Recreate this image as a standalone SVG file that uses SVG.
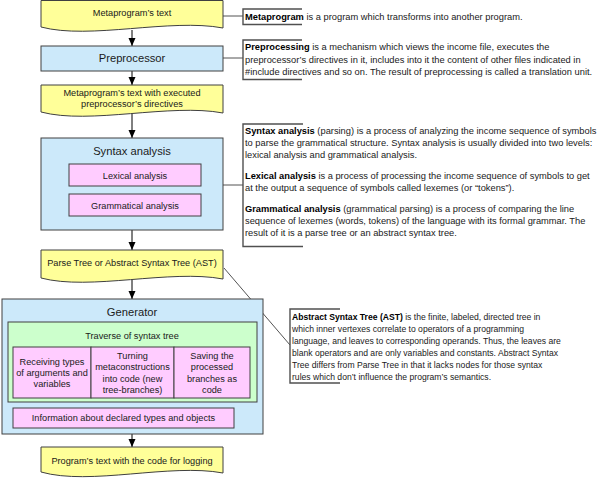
<svg xmlns="http://www.w3.org/2000/svg" width="600" height="481" viewBox="0 0 600 481">
<style>
text{font-family:"Liberation Sans",Arial,sans-serif;fill:#1a1a1a}
.t{font-size:9.2px;text-anchor:middle}
.h{font-size:11.2px;text-anchor:middle}
.n{font-size:9.3px}
.m{font-size:8.6px}
.b{font-weight:bold;fill:#000}
.doc{fill:#ffff99;stroke:#404040;stroke-width:1}
.blue{fill:#cce9fa;stroke:#404040;stroke-width:1}
.pink{fill:#ffccff;stroke:#404040;stroke-width:1}
.green{fill:#ccffcc;stroke:#404040;stroke-width:1}
.br{fill:none;stroke:#505050;stroke-width:1.4}
.c{fill:none;stroke:#404040;stroke-width:0.9}
.a{fill:none;stroke:#000;stroke-width:1;marker-end:url(#ah)}
.d{fill:none;stroke:#000;stroke-width:1;marker-end:url(#sh);marker-start:url(#sh)}
</style>
<defs>
<marker id="ah" viewBox="0 0 8 8" refX="8" refY="4" markerWidth="8" markerHeight="8" markerUnits="userSpaceOnUse" orient="auto"><path d="M0,0.5 L8,4 L0,7.5 Z" fill="#000"/></marker>
<marker id="sh" viewBox="0 0 6 6" refX="6" refY="3" markerWidth="5" markerHeight="5" markerUnits="userSpaceOnUse" orient="auto-start-reverse"><path d="M0,0 L6,3 L0,6 Z" fill="#000"/></marker>
</defs>

<g id="connectors">
<line class="a" x1="132" y1="30" x2="132" y2="46"/>
<line class="a" x1="132" y1="71" x2="132" y2="85"/>
<line class="a" x1="132" y1="114" x2="132" y2="138"/>
<line class="a" x1="132" y1="230" x2="132" y2="250"/>
<line class="a" x1="132" y1="280" x2="132" y2="299"/>
<line class="a" x1="132" y1="434" x2="132" y2="447"/>
<line class="d" x1="25" y1="399" x2="25" y2="407.5"/>
<line class="d" x1="104" y1="399" x2="104" y2="407.5"/>
<line class="c" x1="223" y1="16" x2="243" y2="16"/>
<line class="c" x1="223" y1="58" x2="243" y2="58"/>
<line class="c" x1="223" y1="185" x2="243" y2="185"/>
<line class="c" x1="224" y1="268" x2="290" y2="345"/>
</g>

<g id="metaprogram-text">
<path class="doc" d="M41,0.5 H223 V28 C170,18 90,40 41,27 Z"/>
<text class="t" x="132" y="15.5">Metaprogram’s text</text>
</g>

<g id="preprocessor">
<rect class="blue" x="41" y="46" width="182" height="25"/>
<text class="h" x="132" y="62">Preprocessor</text>
</g>

<g id="preprocessed-text">
<path class="doc" d="M41,85 H223 V113 C170,103 90,125 41,112 Z"/>
<text class="t" x="132" y="95.5">Metaprogram’s text with executed</text>
<text class="t" x="132" y="106.5">preprocessor’s directives</text>
</g>

<g id="syntax-analysis">
<rect class="blue" x="41" y="138" width="182" height="92"/>
<text class="h" x="132" y="154.5">Syntax analysis</text>
<rect class="pink" x="69" y="164" width="132" height="22"/>
<text class="t" x="135" y="178.5">Lexical analysis</text>
<rect class="pink" x="69" y="194" width="132" height="22"/>
<text class="t" x="135" y="208.5">Grammatical analysis</text>
</g>

<g id="ast">
<path class="doc" d="M41,250 H223 V279 C170,269 90,291 41,278 Z"/>
<text class="t" x="132" y="265.5">Parse Tree or Abstract Syntax Tree (AST)</text>
</g>

<g id="generator">
<rect class="blue" x="2" y="299" width="261" height="135"/>
<text class="h" x="132" y="315.5">Generator</text>
<rect class="green" x="8" y="322" width="249" height="80"/>
<text class="t" x="132" y="338.5">Traverse of syntax tree</text>
<rect class="pink" x="13" y="347" width="78" height="51"/>
<rect class="pink" x="91" y="347" width="83" height="51"/>
<rect class="pink" x="174" y="347" width="76" height="51"/>
<text class="t" x="52" y="364.5">Receiving types</text>
<text class="t" x="52" y="375.8">of arguments and</text>
<text class="t" x="52" y="387.1">variables</text>
<text class="t" x="132.5" y="359">Turning</text>
<text class="t" x="132.5" y="370.3">metaconstructions</text>
<text class="t" x="132.5" y="381.6">into code (new</text>
<text class="t" x="132.5" y="392.9">tree-branches)</text>
<text class="t" x="212" y="359">Saving the</text>
<text class="t" x="212" y="370.3">processed</text>
<text class="t" x="212" y="381.6">branches as</text>
<text class="t" x="212" y="392.9">code</text>
<rect class="pink" x="13" y="408" width="221" height="20"/>
<text class="t" x="123.5" y="421">Information about declared types and objects</text>
</g>

<g id="logging-text">
<path class="doc" d="M41,447 H223 V473 C170,463 90,486 41,472 Z"/>
<text class="t" x="132" y="464">Program’s text with the code for logging</text>
</g>

<g id="note-metaprogram">
<path class="br" d="M302,9 H243 V24.5 H302"/>
<text class="n" x="245" y="19.5"><tspan class="b">Metaprogram</tspan> is a program which transforms into another program.</text>
</g>

<g id="note-preprocessing">
<path class="br" d="M302,40 H243 V79.5 H302"/>
<text class="n" x="245" y="50"><tspan class="b">Preprocessing</tspan> is a mechanism which views the income file, executes the</text>
<text class="n" x="245" y="62.5">preprocessor’s directives in it, includes into it the content of other files indicated in</text>
<text class="n" x="245" y="75">#include directives and so on. The result of preprocessing is called a translation unit.</text>
</g>

<g id="note-syntax">
<path class="br" d="M303,124 H243 V246.5 H303"/>
<text class="n" x="245" y="133.5"><tspan class="b">Syntax analysis</tspan> (parsing) is a process of analyzing the income sequence of symbols</text>
<text class="n" x="245" y="145.8">to parse the grammatical structure. Syntax analysis is usually divided into two levels:</text>
<text class="n" x="245" y="158">lexical analysis and grammatical analysis.</text>
<text class="n" x="245" y="178.5"><tspan class="b">Lexical analysis</tspan> is a process of processing the income sequence of symbols to get</text>
<text class="n" x="245" y="190.8">at the output a sequence of symbols called lexemes (or “tokens”).</text>
<text class="n" x="245" y="211.5"><tspan class="b">Grammatical analysis</tspan> (grammatical parsing) is a process of comparing the line</text>
<text class="n" x="245" y="223.8">sequence of lexemes (words, tokens) of the language with its formal grammar. The</text>
<text class="n" x="245" y="236">result of it is a parse tree or an abstract syntax tree.</text>
</g>

<g id="note-ast">
<path class="br" d="M340,309 H290 V383 H340"/>
<text class="m" x="292" y="320"><tspan class="b">Abstract Syntax Tree (AST)</tspan> is the finite, labeled, directed tree in</text>
<text class="m" x="292" y="332">which inner vertexes correlate to operators of a programming</text>
<text class="m" x="292" y="344">language, and leaves to corresponding operands. Thus, the leaves are</text>
<text class="m" x="292" y="356">blank operators and are only variables and constants. Abstract Syntax</text>
<text class="m" x="292" y="368">Tree differs from Parse Tree in that it lacks nodes for those syntax</text>
<text class="m" x="292" y="379.5">rules which don’t influence the program’s semantics.</text>
</g>
</svg>
